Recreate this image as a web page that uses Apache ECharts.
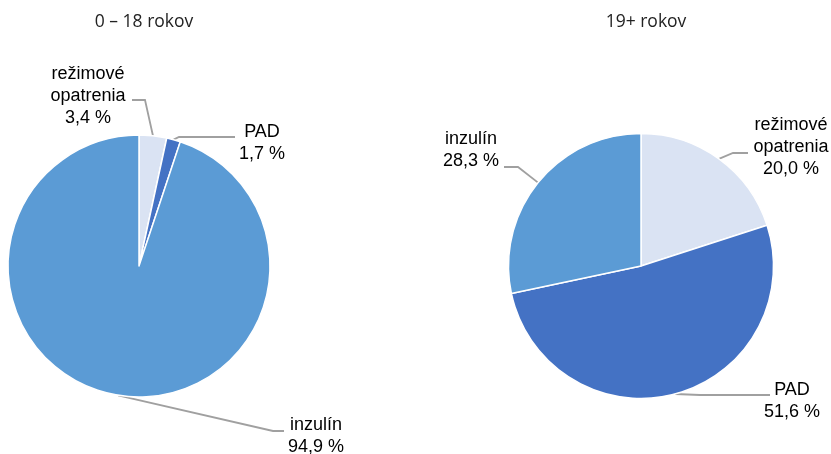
<!DOCTYPE html>
<html>
<head>
<meta charset="utf-8">
<script src="https://cdn.jsdelivr.net/npm/echarts@6/dist/echarts.min.js"></script>
<style>
  html, body { margin: 0; padding: 0; background: #fff; }
  #chart { width: 831px; height: 454px; }
</style>
</head>
<body>
<div id="chart"></div>
<script>
// data
const categories = ['režimové opatrenia', 'PAD', 'inzulín'];
const groupTitles = ['0 – 18 rokov', '19+ rokov'];
const kidsValues = [3.4, 1.7, 94.9];
const adultValues = [20.0, 51.6, 28.3];

const colors = ['#dae3f3', '#4472c4', '#5b9bd5'];

// label placement: text centre + elbow + end of the leader line
const kidsLabels = [
    { x: 88, y: 96, elbow: [145, 100], end: [132, 100] },
    { x: 262, y: 143, elbow: [179, 137], end: [235, 137] },
    { x: 316, y: 436, elbow: [273, 431], end: [284, 431] }
];
const adultLabels = [
    { x: 791, y: 147, elbow: [733, 153], end: [748, 153] },
    { x: 792, y: 401, elbow: [700, 395], end: [770, 395] },
    { x: 471, y: 150, elbow: [518, 167], end: [504, 167] }
];

function fmt(params) {
    return params.name.replace(' ', '\n') + '\n' + params.value.toFixed(1).replace('.', ',') + ' %';
}

function makeLayout(pos) {
    return function (params) {
        const p = pos[params.dataIndex];
        const start = params.labelLinePoints ? params.labelLinePoints[0] : p.elbow;
        return {
            x: p.x,
            y: p.y,
            align: 'center',
            verticalAlign: 'middle',
            labelLinePoints: [start, p.elbow, p.end]
        };
    };
}

function makeSeries(values, center, radius, pos) {
    return {
        type: 'pie',
        center: center,
        radius: radius,
        startAngle: 90,
        clockwise: true,
        avoidLabelOverlap: false,
        silent: true,
        itemStyle: { borderColor: '#fff', borderWidth: 1.5 },
        label: {
            show: true,
            position: 'outside',
            formatter: fmt,
            color: '#000',
            fontFamily: 'Liberation Sans, Arial, sans-serif',
            fontSize: 18,
            lineHeight: 22,
            align: 'center'
        },
        labelLine: {
            show: true,
            lineStyle: { color: '#a0a0a0', width: 1.8 }
        },
        labelLayout: makeLayout(pos),
        data: categories.map((c, i) => ({ name: c, value: values[i], itemStyle: { color: colors[i] } }))
    };
}

const titleStyle = { fontFamily: 'Open Sans', fontSize: 17.5, fontWeight: 'normal', color: '#222' };

const chart = echarts.init(document.getElementById('chart'), null, { renderer: 'canvas' });
chart.setOption({
    animation: false,
    backgroundColor: '#fff',
    title: [
        { text: groupTitles[0], left: 139, top: 8, textAlign: 'center', textStyle: titleStyle },
        { text: groupTitles[1], left: 641, top: 8, textAlign: 'center', textStyle: titleStyle }
    ],
    series: [
        makeSeries(kidsValues, [139, 266], 131, kidsLabels),
        makeSeries(adultValues, [641, 266], 132.5, adultLabels)
    ]
});
</script>
</body>
</html>
